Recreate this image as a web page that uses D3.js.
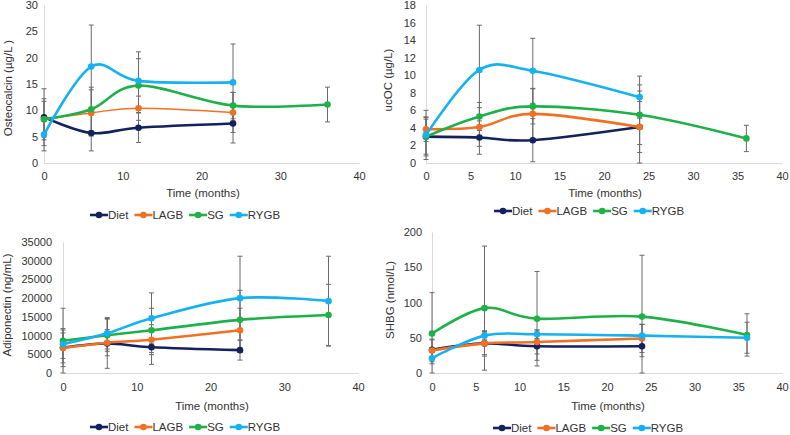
<!DOCTYPE html>
<html>
<head>
<meta charset="utf-8">
<script src="https://cdn.jsdelivr.net/npm/d3@7"></script>
<style>
  body { margin: 0; background: #fff; }
  svg { display: block; font-family: "Liberation Sans", Arial, sans-serif; }
  .axis text { fill: #333; font-size: 11px; }
  .axis path { stroke: #d9d9d9; }
</style>
</head>
<body>
<div id="chartDiv"></div>
<script>
// shared categories
var months = [0, 6, 12, 24, 36];
var groups = ["Diet", "LAGB", "SG", "RYGB"];
var xTicks10 = [0, 10, 20, 30, 40];
var xTicks5 = [0, 5, 10, 15, 20, 25, 30, 35, 40];

// osteocalcin (µg/L), rows follow groups
var osteoMean = [
    [8.7, 5.7, 6.7, 7.5],
    [8.3, 9.5, 10.4, 9.6],
    [8.3, 10.2, 14.7, 10.9, 11.1],
    [5.4, 18.3, 15.6, 15.3]
];
var osteoSD = [
    [5.4, 3.4, 2.8, 3.7],
    [3.9, 4.4, 2.3, 3.8],
    [3.4, 4.2, 5.1, 2.5, 3.3],
    [3.1, 7.9, 5.5, 7.3]
];
var osteoTicks = [0, 5, 10, 15, 20, 25, 30];

// ucOC (µg/L)
var ucocMean = [
    [3.0, 2.9, 2.6, 4.1],
    [3.85, 4.1, 5.6, 4.1],
    [3.0, 5.3, 6.45, 5.5, 2.8],
    [3.2, 10.6, 10.5, 7.5]
];
var ucocSD = [
    [2.0, 1.9, 2.45, 4.1],
    [1.4, 2.2, 2.9, 2.9],
    [2.2, 1.6, 2.0, 3.4, 1.5],
    [2.8, 5.1, 3.7, 2.4]
];
var ucocTicks = [0, 2, 4, 6, 8, 10, 12, 14, 16, 18];

// adiponectin (ng/mL)
var adipoMean = [
    [6800, 7900, 6900, 6100],
    [6700, 8100, 8900, 11400],
    [8600, 10100, 11400, 14200, 15500],
    [7700, 10600, 14600, 20000, 19200]
];
var adipoSD = [
    [5100, 6650, 4600, 2650],
    [4000, 3500, 4000, 5900],
    [8700, 4300, 5900, 7900, 8200],
    [3800, 4200, 6800, 11200, 12000]
];
var adipoTicks = [0, 5000, 10000, 15000, 20000, 25000, 30000, 35000];

// SHBG (nmol/L)
var shbgMean = [
    [33, 42, 38, 38],
    [32, 42, 44, 49],
    [56, 92, 77, 80, 54],
    [21, 53, 55, 53, 50]
];
var shbgSD = [
    [14, 18, 20, 15],
    [16, 16, 17, 20],
    [58, 88, 67, 87, 30],
    [8, 6, 6, 16, 22]
];
var shbgTicks = [0, 50, 100, 150, 200];

var colors = ["#13225f", "#f07024", "#1fb04a", "#16b1f0"];
var lineWidths = [2.6, 2.6, 2.6, 2.6];

var width = 790;
var height = 435;

var chart = d3.select("#chartDiv").append("svg")
    .attr("width", width)
    .attr("height", height);

chart.append("rect").attr("width", width).attr("height", height).attr("fill", "#fff");

drawPanel({
    left: 44, right: 359, top: 5, bottom: 163,
    yTicks: osteoTicks, xTicks: xTicks10, ypad: 6, xpad: 9,
    means: osteoMean, sds: osteoSD, widths: [2.6, 1.4, 2.6, 2.6],
    yTitle: "Osteocalcin (\u00b5g/L )", yTitleX: 8, yTitleY: 88,
    xTitleX: 203, xTitleY: 193,
    legendX: 90, legendY: 215
});

drawPanel({
    left: 426, right: 782, top: 5, bottom: 163,
    yTicks: ucocTicks, xTicks: xTicks5, ypad: 10, xpad: 9,
    means: ucocMean, sds: ucocSD, widths: lineWidths,
    yTitle: "ucOC (\u00b5g/L)", yTitleX: 388, yTitleY: 80,
    xTitleX: 605, xTitleY: 193,
    legendX: 494, legendY: 211
});

drawPanel({
    left: 63, right: 358, top: 242, bottom: 373,
    yTicks: adipoTicks, xTicks: xTicks10, ypad: 11, xpad: 10,
    means: adipoMean, sds: adipoSD, widths: lineWidths,
    yTitle: "Adiponectin (ng/mL)", yTitleX: 7, yTitleY: 305,
    xTitleX: 212, xTitleY: 406,
    legendX: 90, legendY: 427
});

drawPanel({
    left: 432, right: 782, top: 232, bottom: 373,
    yTicks: shbgTicks, xTicks: xTicks5, ypad: 10, xpad: 10,
    means: shbgMean, sds: shbgSD, widths: lineWidths,
    yTitle: "SHBG (nmol/L)", yTitleX: 390, yTitleY: 300,
    xTitleX: 608, xTitleY: 406,
    legendX: 493, legendY: 428
});

function drawPanel(p) {
    var x = d3.scaleLinear().domain([0, 40]).range([p.left, p.right]);
    var y = d3.scaleLinear()
        .domain([0, p.yTicks[p.yTicks.length - 1]])
        .range([p.bottom, p.top]);

    // axes
    chart.append("g")
        .attr("class", "axis")
        .attr("transform", "translate(0," + p.bottom + ")")
        .call(d3.axisBottom(x).tickValues(p.xTicks).tickSize(0).tickPadding(p.xpad)
            .tickFormat(d3.format("d")))
        .call(function(g) { g.select(".domain").attr("stroke", "#d9d9d9"); });

    chart.append("g")
        .attr("class", "axis")
        .attr("transform", "translate(" + p.left + ",0)")
        .call(d3.axisLeft(y).tickValues(p.yTicks).tickSize(0).tickPadding(p.ypad)
            .tickFormat(d3.format("d")))
        .call(function(g) { g.select(".domain").attr("stroke", "#d9d9d9"); });

    // axis titles
    chart.append("text")
        .attr("x", p.xTitleX)
        .attr("y", p.xTitleY)
        .attr("dy", "0.35em")
        .attr("text-anchor", "middle")
        .style("font-size", "11.5px")
        .style("fill", "#333")
        .text("Time (months)");

    chart.append("text")
        .attr("text-anchor", "middle")
        .attr("dy", "0.35em")
        .style("font-size", "11.5px")
        .style("fill", "#333")
        .attr("transform", "translate(" + p.yTitleX + "," + p.yTitleY + ") rotate(-90)")
        .text(p.yTitle);

    // error bars
    var errs = chart.append("g");
    groups.forEach(function(name, i) {
        var sd = p.sds[i];
        if (!sd) return;
        p.means[i].forEach(function(m, j) {
            var lo = y(Math.max(0, m - sd[j]));
            var hi = y(m + sd[j]);
            var cx = x(months[j]);
            errs.append("line").attr("x1", cx).attr("x2", cx).attr("y1", lo).attr("y2", hi);
            errs.append("line").attr("x1", cx - 2.5).attr("x2", cx + 2.5).attr("y1", lo).attr("y2", lo);
            errs.append("line").attr("x1", cx - 2.5).attr("x2", cx + 2.5).attr("y1", hi).attr("y2", hi);
        });
    });
    errs.selectAll("line").attr("stroke", "#6b6b6b").attr("stroke-width", 1);

    // smoothed lines like Excel
    var line = d3.line()
        .x(function(d, j) { return x(months[j]); })
        .y(function(d) { return y(d); })
        .curve(d3.curveCardinal.tension(0));

    groups.forEach(function(name, i) {
        var vals = p.means[i];
        chart.append("path")
            .datum(vals)
            .attr("fill", "none")
            .attr("stroke", colors[i])
            .attr("stroke-width", p.widths[i])
            .attr("d", line);

        chart.append("g").selectAll("circle")
            .data(vals)
            .enter().append("circle")
            .attr("cx", function(d, j) { return x(months[j]); })
            .attr("cy", function(d) { return y(d); })
            .attr("r", 3.3)
            .attr("fill", colors[i]);
    });

    // legend
    var lx = p.legendX;
    groups.forEach(function(name, i) {
        chart.append("line")
            .attr("x1", lx).attr("x2", lx + 18)
            .attr("y1", p.legendY).attr("y2", p.legendY)
            .attr("stroke", colors[i])
            .attr("stroke-width", 2.6);
        chart.append("circle")
            .attr("cx", lx + 9).attr("cy", p.legendY)
            .attr("r", 3.3)
            .attr("fill", colors[i]);
        var t = chart.append("text")
            .attr("x", lx + 18)
            .attr("y", p.legendY)
            .attr("dy", "0.35em")
            .style("font-size", "11.5px")
            .style("fill", "#333")
            .text(name);
        lx = lx + 18 + t.node().getComputedTextLength() + 6;
    });
}
</script>
</body>
</html>
